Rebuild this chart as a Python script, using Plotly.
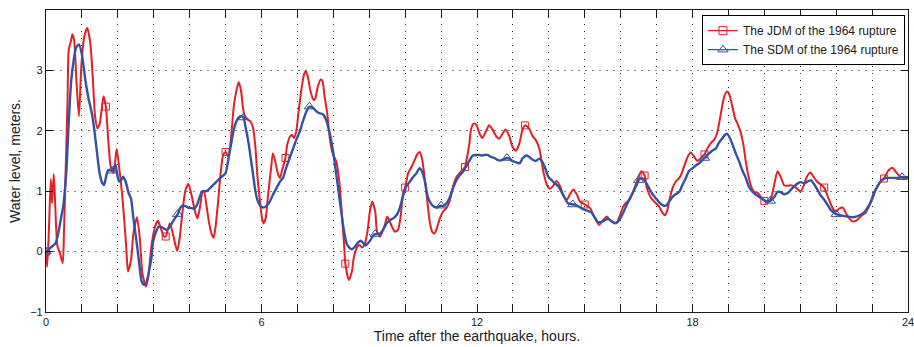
import numpy as np
import plotly.graph_objects as go

# ---------------- data (time in minutes after the earthquake, water level in m) ----
jdm_minutes = [0, 2, 5, 8, 10, 13, 19, 24, 28, 30, 33, 36, 38, 42, 44, 47, 51, 55, 59, 64,
               69, 74, 78, 82, 86, 90, 96, 100, 104, 108, 113, 118, 122, 128, 134, 137, 142,
               146, 152, 157, 161, 167, 171, 176, 182, 187, 191, 197, 200, 207, 213, 219,
               223, 228, 233, 238, 243, 249, 253, 257, 261, 264, 268, 272, 277, 280, 283,
               288, 292, 296, 300, 305, 310, 314, 319, 322, 326, 329, 333, 338, 342, 346,
               350, 353, 357, 360, 363, 367, 371, 376, 379, 383, 388, 391, 394, 400, 403,
               408, 411, 414, 418, 422, 427, 431, 434, 438, 442, 447, 450, 454, 459, 462,
               465, 470, 474, 479, 485, 490, 494, 498, 500, 506, 511, 514, 519, 523, 528,
               533, 537, 541, 545, 550, 553, 558, 562, 566, 570, 574, 579, 583, 588, 592,
               597, 600, 605, 611, 616, 620, 624, 628, 632, 637, 641, 645, 649, 653, 658,
               663, 669, 675, 680, 686, 691, 700, 702, 707, 710, 714, 719, 724, 729, 735,
               740, 746, 752, 757, 763, 768, 774, 779, 785, 791, 796, 800, 807, 813, 818,
               824, 828, 832, 837, 842, 848, 853, 859, 864, 870, 875, 881, 887, 892, 900,
               909, 914, 920, 924, 929, 937, 942, 947, 953, 959, 964, 968, 972, 975, 980,
               986, 991, 995, 1000, 1003, 1008, 1013, 1019, 1024, 1030, 1034, 1038, 1042,
               1047, 1052, 1058, 1062, 1067, 1072, 1077, 1083, 1088, 1094, 1100, 1105, 1111,
               1116, 1121, 1126, 1130, 1134, 1138, 1142, 1147, 1151, 1156, 1160, 1165, 1169,
               1173, 1178, 1183, 1188, 1194, 1200, 1206, 1211, 1217, 1222, 1228, 1233, 1239,
               1244, 1250, 1256, 1260, 1266, 1271, 1277, 1282, 1288, 1293, 1300, 1303, 1308,
               1314, 1319, 1325, 1331, 1336, 1342, 1347, 1353, 1358, 1364, 1369, 1375, 1381,
               1386, 1392, 1400, 1403, 1408, 1414, 1419, 1425, 1431, 1436, 1440]
jdm_level = [0.0, -0.25, 0.4, 1.2, 0.8, 1.28, 0.1, -0.05, -0.19, 0.3, 1.4, 2.5, 3.34, 3.5, 3.6,
             3.5, 2.8, 2.24, 3.07, 3.56, 3.7, 3.45, 2.9, 2.24, 2.04, 2.13, 2.57, 2.4, 1.85, 1.41,
             1.3, 1.70, 1.41, 0.86, 0.08, -0.33, -0.14, 0.3, 0.57, 0.19, -0.36, -0.58, -0.41,
             0.08, 0.41, 0.51, 0.41, 0.25, 0.25, 0.47, 0.25, 0.01, 0.2, 0.66, 1.02, 1.12, 0.94,
             0.66, 0.55, 0.72, 0.97, 0.99, 0.77, 0.5, 0.28, 0.23, 0.39, 0.88, 1.33, 1.6, 1.65,
             1.57, 1.99, 2.43, 2.71, 2.81, 2.65, 2.38, 2.21, 2.18, 2.15, 2.04, 1.71, 1.27, 0.88,
             0.61, 0.47, 0.55, 0.94, 1.38, 1.63, 1.49, 1.27, 1.22, 1.33, 1.55, 1.77, 1.91, 1.93,
             1.88, 1.99, 2.32, 2.71, 2.93, 2.99, 2.87, 2.65, 2.51, 2.54, 2.73, 2.85, 2.82, 2.6,
             2.27, 1.88, 1.62, 1.49, 1.16, 0.66, 0.11, -0.2, -0.47, -0.33, -0.11, 0.06, 0.11,
             0.07, 0.14, 0.33, 0.66, 0.83, 0.66, 0.33, 0.25, 0.33, 0.44, 0.58, 0.5, 0.39, 0.33,
             0.36, 0.55, 0.99, 1.06, 1.30, 1.41, 1.52, 1.61, 1.65, 1.55, 1.27, 0.83, 0.5, 0.33,
             0.30, 0.39, 0.55, 0.66, 0.72, 0.86, 1.08, 1.24, 1.30, 1.40, 1.49, 1.77, 2.02, 2.12,
             2.10, 1.96, 1.88, 1.99, 2.09, 2.02, 1.91, 1.87, 1.96, 2.02, 1.91, 1.74, 1.67, 1.80,
             2.02, 2.09, 2.04, 1.91, 1.85, 1.71, 1.49, 1.27, 1.10, 1.04, 1.10, 1.17, 1.08, 0.94,
             0.86, 0.94, 1.03, 0.94, 0.83, 0.78, 0.72, 0.61, 0.5, 0.44, 0.5, 0.58, 0.52, 0.49,
             0.47, 0.61, 0.74, 0.80, 0.83, 0.86, 0.97, 1.13, 1.27, 1.33, 1.26, 1.08, 0.94, 0.86,
             0.80, 0.75, 0.64, 0.60, 0.69, 0.88, 1.06, 1.16, 1.22, 1.30, 1.44, 1.57, 1.64, 1.57,
             1.50, 1.55, 1.61, 1.71, 1.80, 1.85, 1.96, 2.21, 2.43, 2.6, 2.65, 2.59, 2.38, 2.21,
             2.10, 1.99, 1.77, 1.49, 1.27, 1.08, 0.99, 0.98, 0.91, 0.84, 0.83, 0.88, 1.13, 1.33,
             1.22, 1.10, 1.09, 1.10, 1.08, 1.03, 0.99, 1.10, 1.24, 1.31, 1.24, 1.16, 1.12, 1.06,
             0.99, 0.86, 0.72, 0.66, 0.71, 0.73, 0.64, 0.55, 0.5, 0.51, 0.55, 0.61, 0.64, 0.75,
             0.88, 1.02, 1.13, 1.21, 1.27, 1.35, 1.39, 1.33, 1.26, 1.22, 1.22, 1.22]

sdm_minutes = [0, 7, 16, 21, 25, 29, 34, 38, 42, 46, 50, 55, 60, 66, 71, 77, 81, 85, 89, 93,
               97, 101, 104, 110, 116, 118, 122, 126, 129, 133, 138, 142, 146, 152, 156, 160,
               164, 168, 172, 176, 179, 184, 188, 192, 196, 202, 207, 212, 216, 220, 224, 228,
               234, 239, 243, 248, 252, 257, 261, 266, 270, 274, 279, 285, 291, 296, 300, 304,
               309, 313, 317, 321, 326, 330, 333, 338, 342, 346, 350, 354, 359, 363, 368, 374,
               379, 385, 391, 396, 401, 407, 413, 418, 424, 429, 435, 440, 446, 452, 457, 463,
               468, 474, 479, 485, 491, 497, 502, 507, 511, 516, 521, 526, 530, 534, 538, 542,
               547, 550, 558, 563, 569, 574, 580, 586, 591, 597, 602, 608, 613, 619, 624, 628,
               633, 637, 641, 647, 652, 660, 663, 669, 675, 680, 686, 691, 697, 702, 708, 713,
               719, 724, 727, 732, 738, 743, 749, 754, 760, 770, 774, 779, 785, 791, 796, 802,
               807, 813, 818, 824, 829, 834, 839, 844, 850, 856, 861, 867, 872, 880, 883, 889,
               894, 900, 906, 911, 917, 922, 928, 933, 939, 944, 950, 956, 961, 965, 969, 974,
               980, 986, 990, 995, 1001, 1007, 1012, 1019, 1024, 1030, 1036, 1041, 1047, 1052,
               1058, 1063, 1069, 1074, 1080, 1086, 1091, 1097, 1100, 1108, 1113, 1119, 1124,
               1130, 1134, 1138, 1142, 1147, 1152, 1158, 1163, 1169, 1174, 1180, 1185, 1191,
               1197, 1202, 1206, 1210, 1217, 1222, 1228, 1233, 1239, 1244, 1250, 1256, 1261,
               1267, 1272, 1278, 1283, 1289, 1294, 1300, 1306, 1311, 1317, 1320, 1328, 1339,
               1350, 1361, 1367, 1372, 1378, 1383, 1389, 1394, 1400, 1406, 1422, 1430, 1440]
sdm_level = [0.0, 0.06, 0.14, 0.33, 0.55, 0.77, 1.33, 2.15, 2.82, 3.15, 3.37, 3.43, 3.26, 2.82,
             2.54, 2.27, 1.99, 1.66, 1.33, 1.16, 1.10, 1.27, 1.35, 1.34, 1.44, 1.33, 1.16, 1.19,
             1.24, 1.16, 0.97, 0.88, 0.55, 0.11, -0.22, -0.5, -0.55, -0.5, -0.33, -0.11, 0.17,
             0.33, 0.41, 0.41, 0.39, 0.36, 0.41, 0.5, 0.56, 0.62, 0.72, 0.76, 0.75, 0.72, 0.72,
             0.71, 0.77, 0.91, 1.0, 1.0, 1.01, 1.05, 1.10, 1.16, 1.22, 1.26, 1.30, 1.49, 1.77,
             1.99, 2.13, 2.21, 2.24, 2.22, 2.08, 1.82, 1.55, 1.27, 0.99, 0.83, 0.75, 0.73, 0.75,
             0.83, 0.94, 1.05, 1.16, 1.22, 1.38, 1.55, 1.71, 1.85, 1.99, 2.15, 2.32, 2.40, 2.38,
             2.32, 2.29, 2.27, 2.18, 1.96, 1.70, 1.27, 0.83, 0.39, 0.14, 0.06, 0.04, 0.08, 0.15,
             0.18, 0.14, 0.10, 0.14, 0.19, 0.27, 0.29, 0.30, 0.36, 0.47, 0.52, 0.55, 0.61, 0.72,
             0.94, 1.08, 1.16, 1.23, 1.30, 1.38, 1.33, 1.16, 0.94, 0.83, 0.75, 0.73, 0.76, 0.75,
             0.80, 0.91, 1.05, 1.19, 1.26, 1.33, 1.41, 1.52, 1.59, 1.60, 1.60, 1.59, 1.60, 1.60,
             1.57, 1.55, 1.52, 1.51, 1.55, 1.54, 1.50, 1.48, 1.46, 1.54, 1.59, 1.57, 1.52, 1.50,
             1.54, 1.49, 1.38, 1.24, 1.19, 1.13, 1.08, 0.99, 0.88, 0.80, 0.78, 0.78, 0.75, 0.72,
             0.69, 0.67, 0.65, 0.56, 0.49, 0.49, 0.52, 0.54, 0.51, 0.47, 0.50, 0.58, 0.66, 0.75,
             0.86, 0.97, 1.09, 1.18, 1.22, 1.16, 1.06, 0.97, 0.88, 0.82, 0.77, 0.76, 0.83, 0.91,
             0.95, 0.99, 1.10, 1.22, 1.33, 1.38, 1.43, 1.46, 1.52, 1.55, 1.63, 1.67, 1.71, 1.80,
             1.88, 1.93, 1.95, 1.89, 1.77, 1.63, 1.49, 1.35, 1.22, 1.08, 0.99, 0.95, 0.91, 0.87,
             0.84, 0.83, 0.84, 0.91, 0.99, 0.98, 0.95, 0.97, 1.02, 1.08, 1.13, 1.15, 1.13, 1.16,
             1.18, 1.12, 1.02, 0.93, 0.86, 0.77, 0.69, 0.64, 0.62, 0.60, 0.58, 0.57, 0.61, 0.65,
             0.72, 0.83, 0.97, 1.08, 1.16, 1.21, 1.22, 1.22, 1.23, 1.23]

x_tick_values = list(range(0, 25))
y_tick_values = [-1, 0, 1, 2, 3]
y_tick_labels = ["\u22121", "0", "1", "2", "3"]

series_names = ["The JDM of the 1964 rupture", "The SDM of the 1964 rupture"]

# marker spacing used in the original figure (minutes)
jdm_marker_every = 100
sdm_marker_every = 110

# ---------------- figure ------------------------------------------------------------
RED = "#e41f26"
BLUE = "#3352a6"
FONT = "Arial, 'Liberation Sans', Helvetica, sans-serif"

jdm_t = np.array(jdm_minutes) / 60.0
jdm_y = np.array(jdm_level)
sdm_t = np.array(sdm_minutes) / 60.0
sdm_y = np.array(sdm_level)
jdm_mask = np.array(jdm_minutes) % jdm_marker_every == 0
sdm_mask = np.array(sdm_minutes) % sdm_marker_every == 0

fig = go.Figure()

fig.add_trace(go.Scatter(x=jdm_t, y=jdm_y, mode="lines", showlegend=False,
                         line=dict(color=RED, width=2, shape="spline", smoothing=0.6),
                         hoverinfo="skip"))
fig.add_trace(go.Scatter(x=jdm_t[jdm_mask], y=jdm_y[jdm_mask], mode="markers", showlegend=False,
                         marker=dict(symbol="square-open", size=7, color=RED,
                                     line=dict(width=1, color=RED)),
                         hoverinfo="skip"))
fig.add_trace(go.Scatter(x=sdm_t, y=sdm_y, mode="lines", showlegend=False,
                         line=dict(color=BLUE, width=2.4, shape="spline", smoothing=0.6),
                         hoverinfo="skip"))
fig.add_trace(go.Scatter(x=sdm_t[sdm_mask], y=sdm_y[sdm_mask], mode="markers", showlegend=False,
                         marker=dict(symbol="triangle-up-open", size=9, color=BLUE,
                                     line=dict(width=1, color=BLUE)),
                         hoverinfo="skip"))

# legend entries (line + marker)
fig.add_trace(go.Scatter(x=[None], y=[None], mode="lines+markers", name=series_names[0],
                         line=dict(color=RED, width=1.2),
                         marker=dict(symbol="square-open", size=8, color=RED,
                                     line=dict(width=1, color=RED))))
fig.add_trace(go.Scatter(x=[None], y=[None], mode="lines+markers", name=series_names[1],
                         line=dict(color=BLUE, width=1.2),
                         marker=dict(symbol="triangle-up-open", size=9, color=BLUE,
                                     line=dict(width=1, color=BLUE))))

x_text = [str(v) if v % 6 == 0 else "" for v in x_tick_values]

axis_common = dict(
    showline=True, linecolor="#1a1a1a", linewidth=1.2, mirror="ticks",
    ticks="inside", ticklen=7, tickwidth=1, tickcolor="#1a1a1a",
    showgrid=True, gridwidth=1,
    zeroline=False,
    automargin=False,
    ticklabeloverflow="allow",
    tickfont=dict(family=FONT, size=11, color="#222222"),
)

fig.update_xaxes(range=[0, 24], tickmode="array", tickvals=x_tick_values, ticktext=x_text,
                 gridcolor="#2a2a2a", griddash="1px,6px",
                 title=dict(text="Time after the earthquake, hours.", standoff=2,
                            font=dict(family=FONT, size=14, color="#222222")),
                 **axis_common)
fig.update_yaxes(range=[-1, 4], tickmode="array", tickvals=y_tick_values, ticktext=y_tick_labels,
                 gridcolor="#8a8a8a", griddash="2px,5px",
                 title=dict(text="Water level, meters.", standoff=6,
                            font=dict(family=FONT, size=14, color="#222222")),
                 **axis_common)

fig.update_layout(
    width=914, height=347,
    margin=dict(l=46, r=6, t=10, b=35),
    paper_bgcolor="white", plot_bgcolor="white",
    font=dict(family=FONT, color="#222222"),
    legend=dict(x=0.9965, y=0.983, xanchor="right", yanchor="top",
                bgcolor="white", bordercolor="#000000", borderwidth=1,
                font=dict(family=FONT, size=12, color="#222222"),
                tracegroupgap=0),
)

fig.write_html("out.html")
